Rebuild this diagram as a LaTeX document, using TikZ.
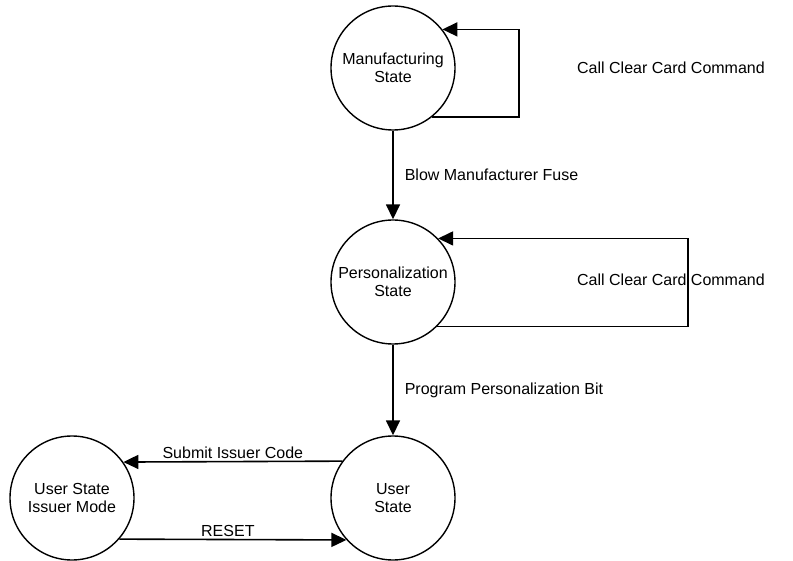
\documentclass[tikz,border=0pt]{standalone}
\usepackage{fontspec}
\setmainfont{Liberation Sans}
\usepackage{tikz}
\usetikzlibrary{arrows.meta,positioning,calc}

\begin{document}
\begin{tikzpicture}[x=1pt, y=-1pt,
    state/.style={circle, draw, line width=1.4pt, minimum size=124pt, inner sep=0pt, align=center},
    flow/.style={line width=1.6pt, -{Triangle[length=15pt,width=14pt]}},
    lbl/.style={inner sep=2pt},
    font=\fontsize{16}{18}\selectfont]
    \useasboundingbox (0,0) rectangle (793,561);

    \node (mfg) [state] at (393,68) {Manufacturing\\State};
    \node (pers) [state] at (393,282) {Personalization\\State};
    \node (user) [state] at (393,498) {User\\State};
    \node (issuer) [state] at (72,498) {User State\\Issuer Mode};

    \coordinate (mfgloop) at (519,30);
    \coordinate (persloop) at (688,239);

    \draw [flow] (mfg.-51) -| (mfgloop) |- (mfg.38);
    \draw [flow] (pers.-45) -| (persloop) |- (pers.44);
    \node (mfgcmd) [lbl] at (671,68) {Call Clear Card Command};
    \node (perscmd) [lbl] at (671,280) {Call Clear Card Command};

    \draw [flow] (mfg) -- node[lbl, right, xshift=9pt] {Blow Manufacturer Fuse} (pers);
    \draw [flow] (pers) -- node[lbl, right, xshift=9pt] {Program Personalization Bit} (user);
    \draw [flow] (user.144.5) -- node[lbl, above] {Submit Issuer Code} (issuer.35.5);
    \draw [flow] (issuer.-41.4) -- node[lbl, above, xshift=-5pt] {RESET} (user.-138.6);
\end{tikzpicture}
\end{document}
